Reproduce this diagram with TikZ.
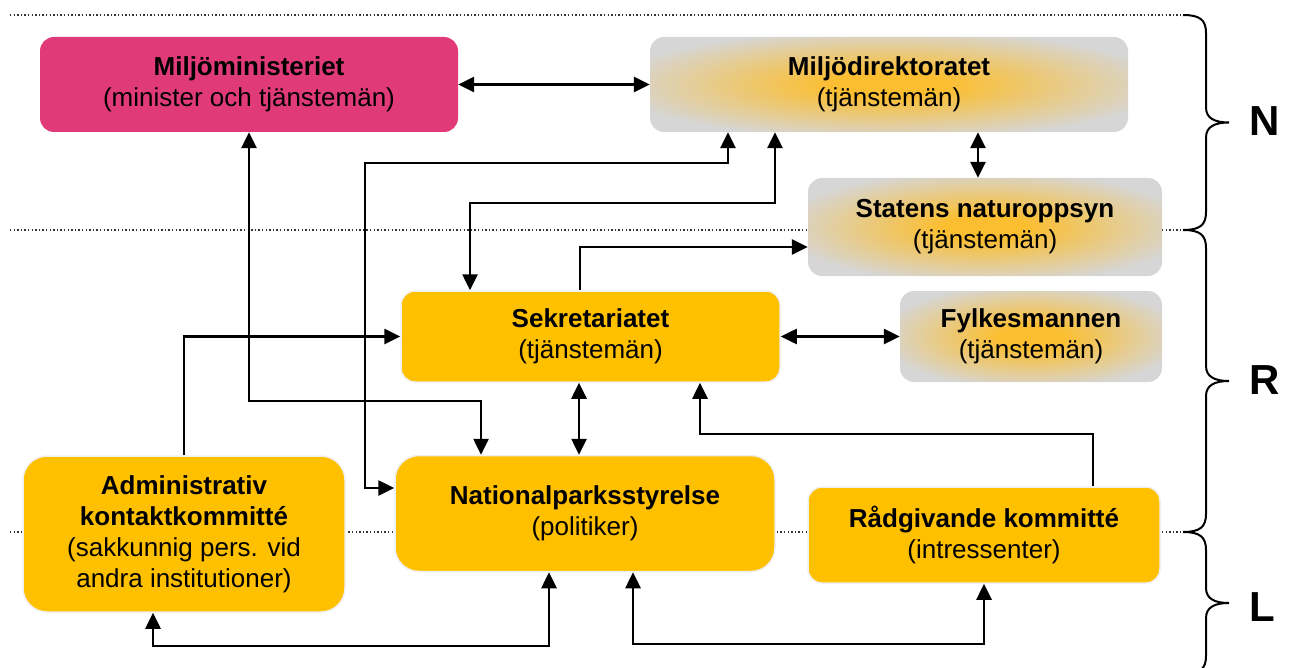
\documentclass[tikz,border=0pt]{standalone}
\usepackage{fontspec}
\setmainfont{Liberation Sans}
\usepackage{tikz}
\usetikzlibrary{arrows.meta}

\definecolor{boxorange}{RGB}{255,192,0}
\definecolor{boxpink}{RGB}{224,58,120}
\definecolor{boxgray}{RGB}{214,214,214}
\definecolor{glowc}{RGB}{251,190,48}
\definecolor{boxedge}{RGB}{240,240,240}

\pgfdeclareradialshading[glowc,boxgray]{softglow}{\pgfpoint{0bp}{0bp}}{color(0bp)=(glowc); color(6bp)=(glowc); color(29bp)=(boxgray); color(50bp)=(boxgray)}

\begin{document}
\begin{tikzpicture}[x=1pt,y=-1pt,
box/.style={rectangle,rounded corners=14pt,align=center,inner sep=4pt,
    font=\fontsize{26}{31}\selectfont},
orangebox/.style={box,fill=boxorange,draw=boxedge,line width=1.5pt},
graybox/.style={box,shade,shading=softglow},
pinkbox/.style={box,fill=boxpink},
link/.style={line width=2.6pt,>={Triangle[length=16pt,width=15pt]}},
dotline/.style={line width=1.4pt,dash pattern=on 1.4pt off 2.2pt,black!80},
bracel/.style={line width=2pt},
levelmark/.style={anchor=west,inner sep=0pt,font=\fontsize{42}{42}\selectfont\bfseries}]
\useasboundingbox (0,0) rectangle (1289,668);

% level separators
\foreach \yy in {15,230,532}
  \draw[dotline] (10,\yy) -- (1183,\yy);

% national level
\node (minist) [pinkbox,minimum width=418pt,minimum height=95pt] at (249,84.5)
    {\textbf{Miljöministeriet}\\(minister och tjänstemän)};
\node (dir) [graybox,minimum width=478pt,minimum height=95pt] at (889,84.5)
    {\textbf{Miljödirektoratet}\\(tjänstemän)};
\node (sno) [graybox,minimum width=354pt,minimum height=98pt] at (985,227)
    {\textbf{Statens naturoppsyn}\\(tjänstemän)};

% regional level
\node (sekr) [orangebox,minimum width=379pt,minimum height=91pt] at (590.5,336.5)
    {\textbf{Sekretariatet}\\(tjänstemän)};
\node (fylke) [graybox,minimum width=262pt,minimum height=91pt] at (1031,336.5)
    {\textbf{Fylkesmannen}\\(tjänstemän)};
\node (natpark) [orangebox,rounded corners=24pt,minimum width=380pt,minimum height=116pt] at (585,513.5)
    {\textbf{Nationalparksstyrelse}\\(politiker)};
\node (admin) [orangebox,rounded corners=24pt,minimum width=322pt,minimum height=156pt] at (184,534)
    {\textbf{Administrativ}\\\textbf{kontaktkommitté}\\(sakkunnig pers. vid\\andra institutioner)};
\node (raad) [orangebox,minimum width=352pt,minimum height=96pt] at (984,535)
    {\textbf{Rådgivande kommitté}\\(intressenter)};

% connectors
\draw[link,<->] (minist.east) -- (dir.west);
\draw[link,<->] ([xshift=89pt]dir.south) -- ([xshift=89pt]dir.south |- sno.north);
\draw[link,<->] ([xshift=-161pt]dir.south) |- (365,163) |- ([yshift=25.5pt]natpark.west);
\draw[link,<->] ([xshift=-114pt]dir.south) |- (470,203) -- ([xshift=-120.5pt]sekr.north);
\draw[link,->] ([xshift=-10.5pt]sekr.north) |- ([yshift=-20pt]sno.west);
\draw[link,<->] (minist.south) |- (481,401) -- ([xshift=-104pt]natpark.north);
\draw[link,->] (admin.north) |- (sekr.west);
\draw[link,<->] (sekr.east) -- (fylke.west);
\draw[link,<->] ([xshift=-11.5pt]sekr.south) -- ([xshift=-11.5pt]sekr.south |- natpark.north);
\draw[link,->] ([xshift=109pt]raad.north) |- (700,434) -- ([xshift=109.5pt]sekr.south);
\draw[link,<->] ([xshift=-31pt]admin.south) |- (549,646) -- ([xshift=-36pt]natpark.south);
\draw[link,<->] ([xshift=48pt]natpark.south) |- (984,644) -- (raad.south);

% braces N / R / L
\foreach \ya/\yb/\lname/\ly in {15/230/N/121,230/532/R/380,532/674/L/607}{
  \pgfmathsetmacro{\ym}{(\ya+\yb)/2}
  \draw[bracel] (1183,\ya) .. controls (1200,\ya) and (1206,\ya+5) .. (1206,\ya+18)
    -- (1206,\ym-15) .. controls (1206,\ym-4) and (1215,\ym) .. (1229,\ym)
    .. controls (1215,\ym) and (1206,\ym+4) .. (1206,\ym+15)
    -- (1206,\yb-18) .. controls (1206,\yb-5) and (1200,\yb) .. (1183,\yb);
  \node (lvl\lname) [levelmark] at (1249,\ly) {\lname};
}
\end{tikzpicture}
\end{document}
